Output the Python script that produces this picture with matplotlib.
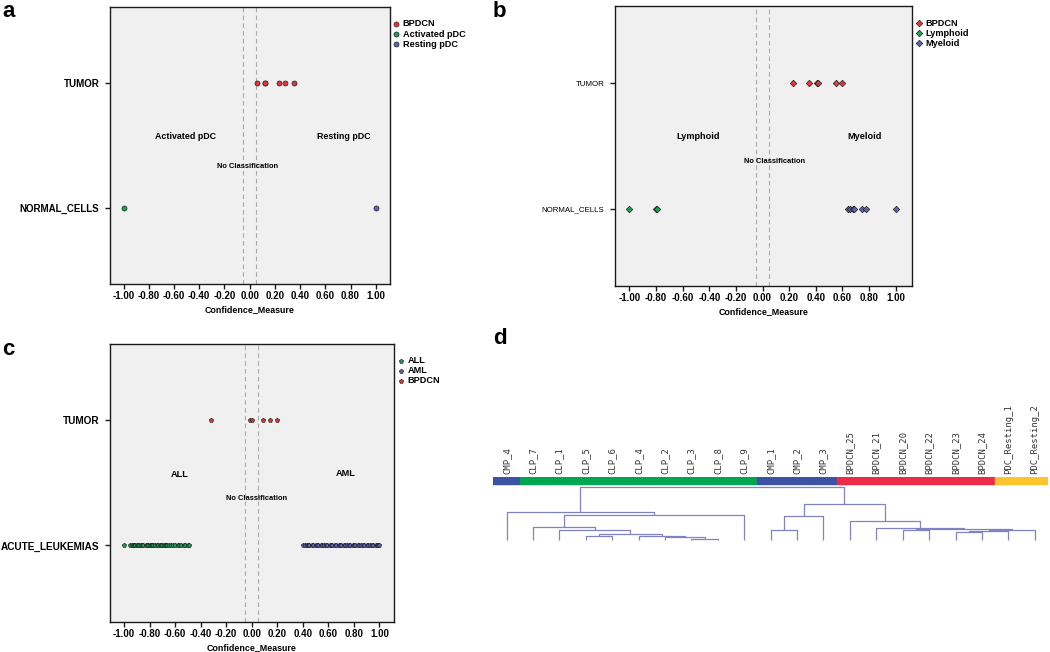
import matplotlib
matplotlib.use('Agg')
import matplotlib.pyplot as plt
import numpy as np

plt.rcParams['font.family'] = ['Liberation Sans', 'DejaVu Sans']
plt.rcParams['axes.unicode_minus'] = False

W, H = 1050, 652

# ---------------- data ----------------
xticks = [-1.0, -0.8, -0.6, -0.4, -0.2, 0.0, 0.2, 0.4, 0.6, 0.8, 1.0]

# panel a
a_categories = ['NORMAL_CELLS', 'TUMOR']
a_bpdcn = [0.06, 0.12, 0.12, 0.23, 0.28, 0.35]
a_activated = [-1.00]
a_resting = [1.00]

# panel b
b_categories = ['NORMAL_CELLS', 'TUMOR']
b_bpdcn = [0.23, 0.35, 0.41, 0.42, 0.55, 0.60]
b_lymphoid = [-1.00, -0.80, -0.79]
b_myeloid = [0.64, 0.66, 0.68, 0.69, 0.75, 0.78, 1.00]

# panel c
c_categories = ['ACUTE_LEUKEMIAS', 'TUMOR']
c_bpdcn = [-0.32, -0.01, 0.00, 0.09, 0.14, 0.20]
c_all = [-1.00, -0.95, -0.94, -0.93, -0.92, -0.91, -0.90, -0.89, -0.88, -0.87,
         -0.86, -0.85, -0.83, -0.82, -0.81, -0.80, -0.79, -0.78, -0.77, -0.76,
         -0.74, -0.73, -0.72, -0.71, -0.70, -0.69, -0.68, -0.67, -0.66, -0.65,
         -0.63, -0.62, -0.60, -0.58, -0.57, -0.55, -0.53, -0.52, -0.50, -0.49]
c_aml = [0.40, 0.42, 0.43, 0.44, 0.45, 0.47, 0.48, 0.50, 0.51, 0.52,
         0.54, 0.55, 0.57, 0.58, 0.59, 0.61, 0.62, 0.63, 0.65, 0.66,
         0.68, 0.69, 0.70, 0.72, 0.73, 0.75, 0.76, 0.77, 0.79, 0.80,
         0.81, 0.83, 0.84, 0.86, 0.87, 0.88, 0.90, 0.91, 0.93, 0.94,
         0.95, 0.97, 0.98, 0.99, 1.00]

# panel d (dendrogram)
leaf_labels = ['CMP_4', 'CLP_7', 'CLP_1', 'CLP_5', 'CLP_6', 'CLP_4', 'CLP_2',
               'CLP_3', 'CLP_8', 'CLP_9', 'CMP_1', 'CMP_2', 'CMP_3',
               'BPDCN_25', 'BPDCN_21', 'BPDCN_20', 'BPDCN_22', 'BPDCN_23',
               'BPDCN_24', 'PDC_Resting_1', 'PDC_Resting_2']
leaf_groups = ['CMP', 'CLP', 'CLP', 'CLP', 'CLP', 'CLP', 'CLP', 'CLP', 'CLP',
               'CLP', 'CMP', 'CMP', 'CMP', 'BPDCN', 'BPDCN', 'BPDCN', 'BPDCN',
               'BPDCN', 'BPDCN', 'PDC', 'PDC']
# merges: (child_a, child_b, height); ids >= 21 refer to earlier merges
merge_a = [7, 6, 5, 3, 24, 2, 1, 27, 0, 10, 30, 17, 32, 33, 15, 35, 14, 13, 31, 29]
merge_b = [8, 21, 22, 4, 23, 25, 26, 9, 28, 11, 12, 18, 19, 20, 16, 34, 36, 37, 38, 39]
merge_h = [0.7, 3.0, 4.0, 4.0, 5.7, 10.0, 13.0, 24.7, 27.3, 9.7, 24.0, 7.7, 8.7,
           10.0, 9.3, 10.5, 11.3, 19.0, 35.7, 53.0]

RED = '#e8343c'
GREEN = '#1aa356'
BLUE = '#5c62b4'
BG = '#f0f0f0'
group_colors = {'CMP': '#3a53a4', 'CLP': '#00a651', 'BPDCN': '#ee2b47', 'PDC': '#fdc42d'}

fig = plt.figure(figsize=(W / 100, H / 100), dpi=100)


def px_axes(l, t, r, b):
    return fig.add_axes([l / W, 1 - b / H, (r - l) / W, (b - t) / H])


def style_scatter_axes(ax, cats, xlim, cat_fs, cat_weight):
    ax.set_facecolor(BG)
    ax.set_xlim(*xlim)
    ax.set_ylim(-0.61, 1.61)
    ax.set_xticks(xticks)
    ax.set_xticklabels(['%.2f' % (t + 0.0) for t in xticks], fontsize=7, fontweight='bold')
    ax.set_yticks(range(len(cats)))
    ax.set_yticklabels(cats, fontsize=cat_fs, fontweight=cat_weight)
    ax.tick_params(axis='x', length=3.5, width=1.0, pad=1.5, color='#1a1a1a')
    ax.tick_params(axis='y', length=3.5, width=1.0, pad=4, color='#1a1a1a')
    for s in ax.spines.values():
        s.set_linewidth(1.0)
        s.set_color('#1a1a1a')
    ax.axvline(-0.05, color='#a8a8a8', ls=(0, (4, 3)), lw=0.8, zorder=1)
    ax.axvline(0.05, color='#a8a8a8', ls=(0, (4, 3)), lw=0.8, zorder=1)
    ax.set_xlabel('Confidence_Measure', fontsize=6.4, fontweight='bold', labelpad=3)


def add_legend(ax, x_px, y_px):
    ax.legend(loc='upper left', bbox_to_anchor=(x_px / W, 1 - y_px / H), bbox_transform=fig.transFigure,
              frameon=False, prop={'size': 6.6, 'weight': 'bold'}, handlelength=0.7,
              handletextpad=0.35, labelspacing=0.12, borderpad=0, borderaxespad=0, scatterpoints=1)


ekw = dict(edgecolors='#202020', linewidths=0.5, zorder=3)

# ---------------- panel a ----------------
axa = px_axes(109.7, 6.7, 390, 284.3)
style_scatter_axes(axa, a_categories, (-1.11, 1.113), 7, 'bold')
axa.scatter(a_bpdcn, [1] * len(a_bpdcn), s=13, marker='o', color=RED, label='BPDCN', **ekw)
axa.scatter(a_activated, [0] * len(a_activated), s=13, marker='o', color=GREEN, label='Activated pDC', **ekw)
axa.scatter(a_resting, [0] * len(a_resting), s=13, marker='o', color=BLUE, label='Resting pDC', **ekw)
axa.text(-0.505, 0.57, 'Activated pDC', fontsize=6.4, fontweight='bold', ha='center', va='center')
axa.text(0.75, 0.57, 'Resting pDC', fontsize=6.4, fontweight='bold', ha='center', va='center')
axa.text(-0.015, 0.33, 'No Classification', fontsize=5.4, fontweight='bold', ha='center', va='center')
add_legend(axa, 393, 19.5)

# ---------------- panel b ----------------
axb = px_axes(614.7, 6.1, 912.2, 286)
style_scatter_axes(axb, b_categories, (-1.11, 1.124), 5.7, 'normal')
axb.scatter(b_bpdcn, [1] * len(b_bpdcn), s=11, marker='D', color=RED, label='BPDCN', **ekw)
axb.scatter(b_lymphoid, [0] * len(b_lymphoid), s=11, marker='D', color=GREEN, label='Lymphoid', **ekw)
axb.scatter(b_myeloid, [0] * len(b_myeloid), s=11, marker='D', color=BLUE, label='Myeloid', **ekw)
axb.text(-0.483, 0.572, 'Lymphoid', fontsize=6.6, fontweight='bold', ha='center', va='center')
axb.text(0.763, 0.577, 'Myeloid', fontsize=6.6, fontweight='bold', ha='center', va='center')
axb.text(0.088, 0.377, 'No Classification', fontsize=5.4, fontweight='bold', ha='center', va='center')
add_legend(axb, 916, 18.5)

# ---------------- panel c ----------------
axc = px_axes(109.7, 344, 394.3, 621.7)
style_scatter_axes(axc, c_categories, (-1.112, 1.117), 7.2, 'bold')
axc.scatter(c_all, [0] * len(c_all), s=10, marker='p', color=GREEN, label='ALL', **ekw)
axc.scatter(c_aml, [0] * len(c_aml), s=10, marker='p', color=BLUE, label='AML', **ekw)
axc.scatter(c_bpdcn, [1] * len(c_bpdcn), s=10, marker='p', color=RED, label='BPDCN', **ekw)
axc.text(-0.56, 0.57, 'ALL', fontsize=6.6, fontweight='bold', ha='center', va='center')
axc.text(0.74, 0.575, 'AML', fontsize=6.6, fontweight='bold', ha='center', va='center')
axc.text(0.04, 0.376, 'No Classification', fontsize=5.4, fontweight='bold', ha='center', va='center')
add_legend(axc, 398, 356)

# ---------------- panel d ----------------
axd = px_axes(493.3, 477.3, 1048, 539.5)
n = len(leaf_labels)
axd.set_xlim(0, n)
axd.set_ylim(0, 62.2)
axd.axis('off')
leaf_x = [i + 0.5 for i in range(n)]
axd.bar(leaf_x, [7.7] * n, bottom=54.5, width=1.0,
        color=[group_colors[g] for g in leaf_groups],
        edgecolor=[group_colors[g] for g in leaf_groups], linewidth=0.3)
for i, lab in enumerate(leaf_labels):
    axd.text(leaf_x[i], 65.5, lab, rotation=90, ha='center', va='bottom',
             fontsize=6.4, family=['DejaVu Sans Mono'], color='#333333', clip_on=False)
node_x = list(leaf_x)
node_h = [0.0] * n
for a, b, h in zip(merge_a, merge_b, merge_h):
    xa, xb = node_x[a], node_x[b]
    axd.plot([xa, xa, xb, xb], [node_h[a], h, h, node_h[b]], color='#7f83c2', lw=0.9,
             solid_capstyle='butt', clip_on=False)
    node_x.append((xa + xb) / 2)
    node_h.append(h)

# panel letters
for letter, x, y in [('a', 2, 17.3), ('b', 493, 17.3), ('c', 2, 355), ('d', 493, 344)]:
    fig.text(x / W, 1 - y / H, letter, fontsize=16, fontweight='bold', va='baseline', ha='left')

fig.savefig('out.png', dpi=100)
